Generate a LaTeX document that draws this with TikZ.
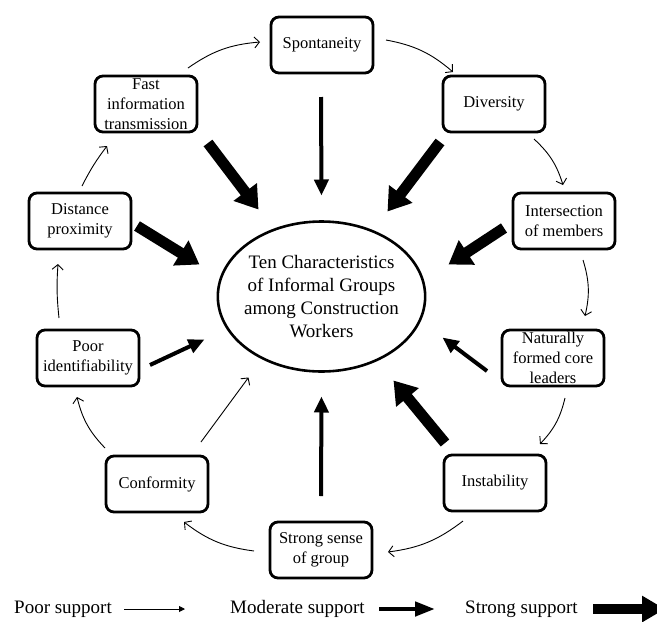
\documentclass[tikz,border=0pt]{standalone}
\usepackage{fontspec}
\setmainfont{Liberation Serif}
\usetikzlibrary{arrows.meta,shapes.geometric}

\begin{document}
\begin{tikzpicture}[x=1pt,y=-1pt,
  box/.style={draw, line width=2.8pt, rounded corners=8pt,
    minimum width=102pt, minimum height=56pt, align=center,
    inner sep=1pt, font=\fontsize{16.5}{20}\selectfont},
  hub/.style={draw, line width=2.6pt, ellipse, minimum width=200pt,
    minimum height=150pt, align=center, inner xsep=-4pt, inner ysep=0pt,
    font=\fontsize{19}{23.3}\selectfont},
  legend/.style={anchor=west, inner sep=0pt, font=\fontsize{19}{22}\selectfont},
  poor/.style={line width=0.9pt, -{Straight Barb[length=5pt,width=11pt]}},
  cycle/.style={poor, bend left=15},
  moderate/.style={line width=4pt, -{Triangle[length=16pt,width=14pt]}},
  strong/.style={line width=11pt, -{Triangle[length=22pt,width=28pt]}},
]
\useasboundingbox (0,0) rectangle (657,622);

% central concept
\node[hub] (hub) at (321.5,296.5) {Ten Characteristics\\of Informal Groups\\among Construction\\Workers};

% the ten characteristics
\node[box] (spont) at (322,45)  {Spontaneity};
\node[box] (fast)  at (146,104) {Fast\\information\\transmission};
\node[box] (div)   at (494,104) {Diversity};
\node[box] (inter) at (564,221) {Intersection\\of members};
\node[box] (nat)   at (553,358) {Naturally\\formed core\\leaders};
\node[box] (inst)  at (495,483) {Instability};
\node[box] (ssg)   at (321,550) {Strong sense\\of group};
\node[box] (conf)  at (157,484) {Conformity};
\node[box] (poorid) at (88,358) {Poor\\identifiability};
\node[box] (dist)  at (80,221)  {Distance\\proximity};

% cycle of thin arrows around the hub
\draw[cycle] ([shift={(42,-36)}]fast.center)  to ([shift={(-62,-3)}]spont.center);
\draw[cycle] ([shift={(64,-5)}]spont.center)  to ([shift={(-41,-32)}]div.center);
\draw[cycle] ([shift={(40,35)}]div.center)    to ([shift={(-1,-36)}]inter.center);
\draw[cycle] ([shift={(19,39)}]inter.center)  to ([shift={(32,-42)}]nat.center);
\draw[cycle] ([shift={(12,40)}]nat.center)    to ([shift={(45,-39)}]inst.center);
\draw[cycle] ([shift={(-32,38)}]inst.center)  to ([shift={(67,2)}]ssg.center);
\draw[cycle] ([shift={(-67,1)}]ssg.center)    to ([shift={(27,38)}]conf.center);
\draw[cycle] ([shift={(-52,-36)}]conf.center) to ([shift={(-11,39)}]poorid.center);
\draw[cycle, bend left=5] ([shift={(-29,-40)}]poorid.center) to ([shift={(-22,43)}]dist.center);
\draw[cycle, bend left=5] ([shift={(2,-35)}]dist.center) to ([shift={(-39,42)}]fast.center);

% support towards the hub
\draw[poor]     ([shift={(44,-42)}]conf.center)   -- ([shift={(-73,81)}]hub.center);
\draw[moderate] ([shift={(-1,52)}]spont.center)   -- ([shift={(0,-101)}]hub.center);
\draw[moderate] ([shift={(-66,13)}]nat.center)    -- ([shift={(121,41)}]hub.center);
\draw[moderate] ([shift={(0,-54)}]ssg.center)     -- ([shift={(0,100)}]hub.center);
\draw[moderate] ([shift={(62,7)}]poorid.center)   -- ([shift={(-117,43)}]hub.center);
\draw[strong]   ([shift={(62,39)}]fast.center)    -- ([shift={(-63,-87)}]hub.center);
\draw[strong]   ([shift={(-54,38)}]div.center)    -- ([shift={(66,-85)}]hub.center);
\draw[strong]   ([shift={(-60,7)}]inter.center)   -- ([shift={(127,-32)}]hub.center);
\draw[strong]   ([shift={(-50,-40)}]inst.center)  -- ([shift={(72,84)}]hub.center);
\draw[strong]   ([shift={(57,5)}]dist.center)     -- ([shift={(-122,-32)}]hub.center);

% legend
\node[legend] (lpoor) at (14,609)  {Poor support};
\node[legend] (lmod)  at (230,609) {Moderate support};
\node[legend] (lstr)  at (465,609) {Strong support};
\coordinate (lpoorend) at (185,609);
\coordinate (lmodend)  at (435,609);
\coordinate (lstrend)  at (665,609);
\draw[line width=0.9pt, -{Triangle[length=6pt,width=6pt]}] ([xshift=12pt]lpoor.east) -- (lpoorend);
\draw[line width=4.5pt, -{Triangle[length=20pt,width=14pt]}] (379,609) -- (lmodend);
\draw[line width=10pt, -{Triangle[length=23pt,width=25pt]}] (593,609) -- (lstrend);
\end{tikzpicture}
\end{document}
